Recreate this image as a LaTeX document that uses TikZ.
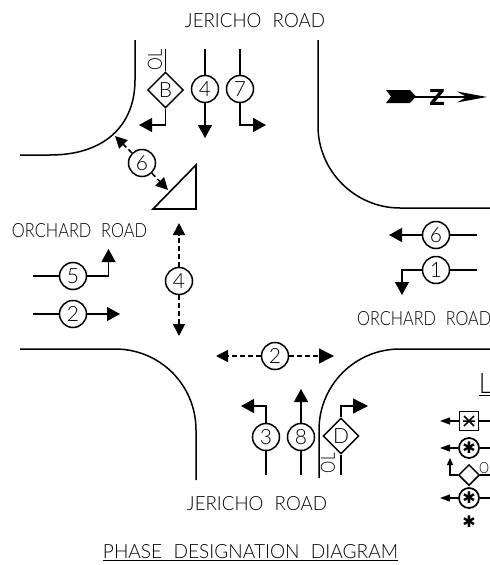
\documentclass[tikz,border=0pt]{standalone}
\usepackage{graphicx}
\usepackage{fontspec}
\setmainfont{Lato Light}
\newfontfamily\symf{DejaVu Sans}
\usetikzlibrary{arrows.meta,shapes.geometric}
\newcommand{\fitt}[3]{\resizebox{#1pt}{#2pt}{#3}}
\tikzset{
  curb/.style={line width=1.5pt},
  conn/.style={line width=1.3pt},
  tipped/.style={conn,-{Triangle[length=13pt,width=14pt]}},
  smalltip/.style={conn,-{Triangle[length=10pt,width=7pt]}},
  dashone/.style={line width=1.5pt,dash pattern=on 5pt off 3pt,-{Triangle[length=12pt,width=12pt]}},
  phase/.style={circle,draw,line width=1.5pt,minimum size=27pt,inner sep=0pt,font=\fontsize{21}{21}\selectfont,fill=white},
  dia/.style={diamond,draw,line width=1.4pt,minimum size=36pt,inner sep=0pt,font=\fontsize{21}{21}\selectfont,fill=white},
  roadtext/.style={inner sep=0pt},
  lgbox/.style={draw,line width=1.7pt,minimum size=19pt,inner sep=0pt,fill=white},
  lgcirc/.style={circle,draw,line width=1.7pt,minimum size=20pt,inner sep=0pt,fill=white,font=\symf\fontsize{16}{16}\selectfont},
  lgdia/.style={diamond,draw,line width=1.5pt,minimum size=21pt,inner sep=0pt,fill=white}
}
\begin{document}
\begin{tikzpicture}[x=1pt,y=-1pt]
\useasboundingbox (0,0) rectangle (490,565);
% curbs
\draw[curb] (135,40) -- (135,80) .. controls (135,125) and (105,155) .. (50,155) -- (20,155);
\draw[curb] (318,40) -- (318,126) .. controls (318,171) and (355,208) .. (400,208) -- (490,208);
\draw[curb] (20,349) -- (115,349) .. controls (160,349) and (196,385) .. (196,430) -- (196,480);
\draw[curb] (490,349) -- (400,349) .. controls (355,349) and (319,385) .. (319,430) -- (319,478);
% labels
\node[roadtext] (t1) at (255,21) {\fitt{140}{14}{JERICHO\hspace{0.6em}ROAD}};
\node[roadtext] (t2) at (257,504) {\fitt{140}{14}{JERICHO\hspace{0.6em}ROAD}};
\node[roadtext] (t3) at (79.5,230.5) {\fitt{135}{14}{ORCHARD\hspace{0.6em}ROAD}};
\node[roadtext,anchor=west] (t4) at (357,319) {\fitt{134}{14}{ORCHARD\hspace{0.6em}ROAD}};
\node[roadtext] (t5) at (250.5,551.5) {\fitt{295}{14}{PHASE\hspace{0.6em}DESIGNATION\hspace{0.6em}DIAGRAM}};
\coordinate (u1) at (103,560); \coordinate (u2) at (398,560);
\draw[line width=1pt] (u1) -- (u2);
% top approach
\node[dia] (B) at (165.5,90) {B};
\node[phase] (p4t) at (205,89) {4};
\node[phase] (p7) at (240,89) {7};
\coordinate (Bt) at (165.5,49); \coordinate (Bb) at (165.5,125); \coordinate (Be) at (139,125);
\draw[conn] (Bt) -- (B.north);
\draw[tipped] (B.south) -- (Bb) -- (Be);
\coordinate (p4ta) at (205,49); \coordinate (p4te) at (205,138);
\draw[conn] (p4ta) -- (p4t.north);
\draw[tipped] (p4t.south) -- (p4te);
\coordinate (p7a) at (240,49); \coordinate (p7b) at (240,125); \coordinate (p7e) at (266,125);
\draw[conn] (p7a) -- (p7.north);
\draw[tipped] (p7.south) -- (p7b) -- (p7e);
\node[rotate=90,inner sep=0pt] (ol1) at (155,59.5) {\fitt{21}{14}{OL}};
% north arrow
\coordinate (nb) at (487,97);
\fill (386,90) -- (410,90) -- (416,96.5) -- (410,103) -- (386,103) -- (391,96.5) -- cycle;
\draw[line width=1.2pt,-{Stealth[length=30pt,width=11pt]}] (412,97) -- (nb);
\node[inner sep=0pt,font=\symf\fontsize{22}{22}\selectfont\bfseries] (N) at (437,97) {Z};
% phase 6 ped
\node[phase] (p6d) at (142,163) {6};
\coordinate (c6) at (115,136); \coordinate (c7) at (168,190);
\draw[dashone] (p6d) -- (c6);
\draw[dashone] (p6d) -- (c7);
\draw[line width=1.6pt,fill=white] (153,209) -- (196,209) -- (196,165) -- cycle;
% middle ped 4
\node[phase] (p4m) at (179,281) {4};
\coordinate (d4a) at (179,223); \coordinate (d4b) at (179,336);
\draw[dashone] (p4m) -- (d4a);
\draw[dashone] (p4m) -- (d4b);
% left
\node[phase] (p5) at (73,276) {5};
\coordinate (p5a) at (33,276); \coordinate (p5b) at (108.5,276); \coordinate (p5e) at (108.5,249);
\draw[conn] (p5a) -- (p5);
\draw[tipped] (p5) -- (p5b) -- (p5e);
\node[phase] (p2l) at (73,314) {2};
\coordinate (p2a) at (33,314); \coordinate (p2e) at (120,314);
\draw[conn] (p2a) -- (p2l);
\draw[tipped] (p2l) -- (p2e);
% right
\node[phase] (p6r) at (436,235) {6};
\coordinate (r6a) at (477,235); \coordinate (r6e) at (389,235);
\draw[conn] (r6a) -- (p6r);
\draw[tipped] (p6r) -- (r6e);
\node[phase] (p1) at (436,270) {1};
\coordinate (r1a) at (477,270); \coordinate (r1b) at (402,270); \coordinate (r1e) at (402,295);
\draw[conn] (r1a) -- (p1);
\draw[tipped] (p1) -- (r1b) -- (r1e);
% mid ped 2
\node[phase] (p2m) at (275,356) {2};
\coordinate (d2a) at (216,356); \coordinate (d2b) at (334,356);
\draw[dashone] (p2m) -- (d2a);
\draw[dashone,-{Triangle[length=15pt,width=15pt]}] (p2m) -- (d2b);
% bottom approach
\node[phase] (p3) at (266,437) {3};
\coordinate (p3a) at (266,475); \coordinate (p3b) at (266,406); \coordinate (p3e) at (241,406);
\draw[conn] (p3a) -- (p3);
\draw[tipped] (p3) -- (p3b) -- (p3e);
\node[phase] (p8) at (301,437) {8};
\coordinate (p8a) at (301,475); \coordinate (p8e) at (301,389);
\draw[conn] (p8a) -- (p8);
\draw[tipped] (p8) -- (p8e);
\node[dia] (D) at (341,436) {D};
\coordinate (Da) at (341,475); \coordinate (Db) at (341,406); \coordinate (De) at (368,406);
\draw[conn] (Da) -- (D.south);
\draw[tipped,-{Triangle[length=15pt,width=15pt]}] (D.north) -- (Db) -- (De);
\node[rotate=90,inner sep=0pt] (ol2) at (328,463) {\fitt{20}{14}{OL}};
% legend
\node[inner sep=0pt,anchor=west] (L) at (479,383) {\fitt{12}{20}{L}};
\coordinate (Lu1) at (479,395); \coordinate (Lu2) at (490,395);
\draw[line width=1pt] (Lu1) -- (Lu2);
\node[lgbox] (l1) at (469,421) {};
\coordinate (l1a) at (490,421); \coordinate (l1e) at (440,421);
\draw[conn] (l1a) -- (l1); \draw[smalltip] (l1) -- (l1e);
\draw[line width=1.5pt] (l1.center) +(-5,-5) -- +(5,5) +(-5,5) -- +(5,-5) +(-6,0) -- +(6,0);
\node[lgcirc] (l2) at (469,448) {✱};
\coordinate (l2a) at (490,448); \coordinate (l2e) at (440,448);
\draw[conn] (l2a) -- (l2); \draw[smalltip] (l2) -- (l2e);
\node[lgdia] (l3) at (469,475) {};
\coordinate (l3b) at (450,475); \coordinate (l3e) at (450,458);
\draw[conn,-{Triangle[length=7pt,width=6pt]}] (l3) -- (l3b) -- (l3e);
\node[inner sep=0pt,anchor=west] (l3t) at (479,468) {\fitt{10}{11}{O}};
\coordinate (l3a) at (490,475);
\draw[conn] (l3a) -- (l3);
\node[lgcirc] (l4) at (469,498) {✱};
\coordinate (l4a) at (490,498); \coordinate (l4e) at (440,498);
\draw[conn] (l4a) -- (l4); \draw[smalltip] (l4) -- (l4e);
\node[inner sep=0pt,font=\symf\fontsize{16}{16}\selectfont] (l5) at (469,522) {✱};
\end{tikzpicture}
\end{document}
